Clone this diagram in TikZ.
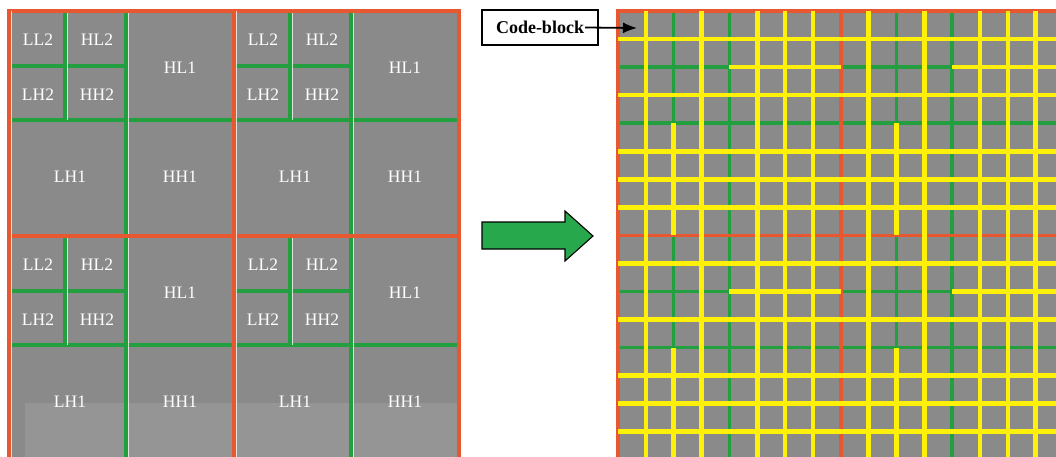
\documentclass[tikz,border=0pt]{standalone}
\usepackage{fontspec}
\setmainfont{Liberation Serif}
\usetikzlibrary{arrows.meta}
\definecolor{panelgray}{RGB}{138,138,138}
\definecolor{bandred}{RGB}{232,88,48}
\definecolor{bandgreen}{RGB}{34,160,64}
\definecolor{cbyellow}{RGB}{255,240,10}
\definecolor{arrowgreen}{RGB}{40,168,76}
\begin{document}
\begin{tikzpicture}[x=1pt,y=-1pt,
  redline/.style={draw=bandred,line width=3.4pt},
  greenline/.style={draw=bandgreen,line width=3.5pt},
  yellowline/.style={draw=cbyellow,line width=4.6pt},
  glint/.style={draw=white,line width=0.9pt,opacity=0.75},
  subband/.style={text=white,font=\fontsize{17.5}{20}\selectfont,inner sep=0pt}]
\useasboundingbox (0,0) rectangle (1056,457);
\begin{scope}
\clip (0,0) rectangle (1056,457);
% ---------- left: four tiles, each split into two wavelet levels ----------
\fill[panelgray] (9,11) rectangle (459,461);
\fill[white,opacity=0.1] (25,403) rectangle (459,461);
\foreach \X/\Y/\n in {9/11/a,234/11/b,9/236/c,234/236/d} {
  \draw[greenline] (\X+117,\Y) -- (\X+117,\Y+225);
  \draw[greenline] (\X,\Y+109) -- (\X+225,\Y+109);
  \draw[greenline] (\X+56,\Y) -- (\X+56,\Y+109);
  \draw[greenline] (\X,\Y+55) -- (\X+117,\Y+55);
  \draw[glint] (\X+119.6,\Y) -- (\X+119.6,\Y+225);
  \draw[glint] (\X+58.6,\Y) -- (\X+58.6,\Y+109);
  \node[subband] (ll2\n) at (\X+29,\Y+29) {LL2};
  \node[subband] (hl2\n) at (\X+88,\Y+29) {HL2};
  \node[subband] (lh2\n) at (\X+29,\Y+84) {LH2};
  \node[subband] (hh2\n) at (\X+88,\Y+84) {HH2};
  \node[subband] (hl1\n) at (\X+171,\Y+57) {HL1};
  \node[subband] (lh1\n) at (\X+61,\Y+166) {LH1};
  \node[subband] (hh1\n) at (\X+171,\Y+166) {HH1};
}
\draw[redline] (9,11) rectangle (459,461);
\draw[redline] (234,11) -- (234,461);
\draw[redline] (9,236) -- (459,236);
\foreach \x in {9,234,459} \draw[glint] (\x+2.6,11) -- (\x+2.6,461);
% ---------- right: the same tiles cut into code-blocks ----------
\def\cw{27.85}
\def\ch{28.05}
\fill[panelgray] (618,11) rectangle (618+16*\cw,11+16*\ch);
\foreach \i in {0,1} {
  \foreach \j in {0,1} {
    \pgfmathsetmacro\X{618+8*\i*\cw}
    \pgfmathsetmacro\Y{11+8*\j*\ch}
    \draw[greenline] (\X+4*\cw,\Y) -- (\X+4*\cw,\Y+8*\ch);
    \draw[greenline] (\X,\Y+4*\ch) -- (\X+8*\cw,\Y+4*\ch);
    \draw[greenline] (\X+2*\cw,\Y) -- (\X+2*\cw,\Y+4*\ch);
    \draw[greenline] (\X,\Y+2*\ch) -- (\X+4*\cw,\Y+2*\ch);
  }
}
\draw[redline] (618,11) rectangle (618+16*\cw,11+16*\ch);
\draw[redline] (618+8*\cw,11) -- (618+8*\cw,11+16*\ch);
\draw[redline] (618,11+8*\ch) -- (618+16*\cw,11+8*\ch);
\foreach \k in {1,3,5,6,7,9,11,13,14,15} {
  \draw[yellowline] (618+\k*\cw,11) -- (618+\k*\cw,11+16*\ch);
  \draw[yellowline] (618,11+\k*\ch) -- (618+16*\cw,11+\k*\ch);
}
\foreach \k in {2,10} {
  \draw[yellowline] (618+\k*\cw,11+4*\ch) -- (618+\k*\cw,11+8*\ch);
  \draw[yellowline] (618+\k*\cw,11+12*\ch) -- (618+\k*\cw,11+16*\ch);
  \draw[yellowline] (618+4*\cw,11+\k*\ch) -- (618+8*\cw,11+\k*\ch);
  \draw[yellowline] (618+12*\cw,11+\k*\ch) -- (618+16*\cw,11+\k*\ch);
}
\end{scope}
% ---------- transition arrow ----------
\filldraw[fill=arrowgreen,draw=black,line width=1.1pt,line join=miter]
  (482,222) -- (565,222) -- (565,211) -- (593,236) -- (565,261)
  -- (565,249) -- (482,249) -- cycle;
% ---------- code-block callout ----------
\node[draw=black,line width=1.3pt,minimum width=116pt,minimum height=35pt,inner sep=0pt]
  (cb) at (540,27.5) {};
\node[inner sep=0pt,font=\fontsize{18}{20}\selectfont\bfseries] (cbtext) at (540,27.5) {Code-block};
\coordinate (cbtip) at (637,28);
\draw[line width=1.8pt,-{Latex[length=14pt,width=11pt]}] ([xshift=1pt]cbtext.east) -- (cbtip);
\end{tikzpicture}
\end{document}
